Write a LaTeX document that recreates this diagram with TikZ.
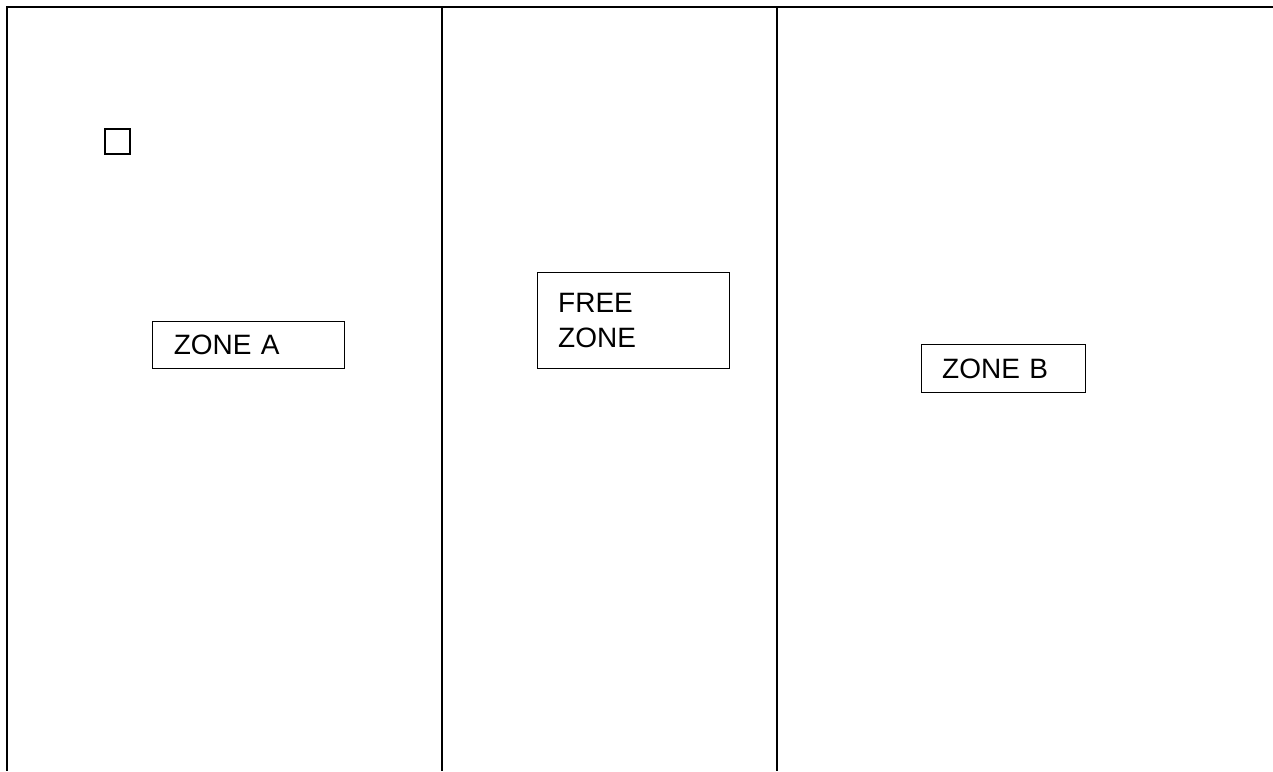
\documentclass[tikz,border=0pt]{standalone}
\usepackage{fontspec}
\setmainfont{Liberation Sans}
\usepackage{tikz}
\usetikzlibrary{positioning}

\tikzset{
  zonebox/.style={draw, line width=0.5pt, anchor=north west, inner xsep=10.5pt, inner ysep=0pt,
                  align=left, font=\fontsize{14}{17.4}\selectfont},
  wall/.style={line width=1pt}
}

\begin{document}
\begin{tikzpicture}[x=0.5pt, y=-0.5pt]
        \useasboundingbox (0,0) rectangle (1273,771);

        % Frame and walls
        \draw[wall] (1273,7) -- (7,7) -- (7,771);
        \draw[wall] (441.5,7) -- (441.5,771);
        \draw[wall] (777,7) -- (777,771);

        % Small marker square
        \node[draw, line width=0.8pt, minimum size=12.5pt, inner sep=0pt, anchor=north west] (marker) at (104,128) {};

        % Zone boxes
        \node[zonebox, text width=75pt, minimum height=23.8pt] (zoneA) at (152.3,320.7) {ZONE A};
        \node[zonebox, text width=75.2pt, minimum height=48pt] (freezone) at (536.7,272.3) {FREE\\ZONE};
        \node[zonebox, text width=61pt, minimum height=24.2pt] (zoneB) at (920.7,344) {ZONE B};
\end{tikzpicture}
\end{document}
